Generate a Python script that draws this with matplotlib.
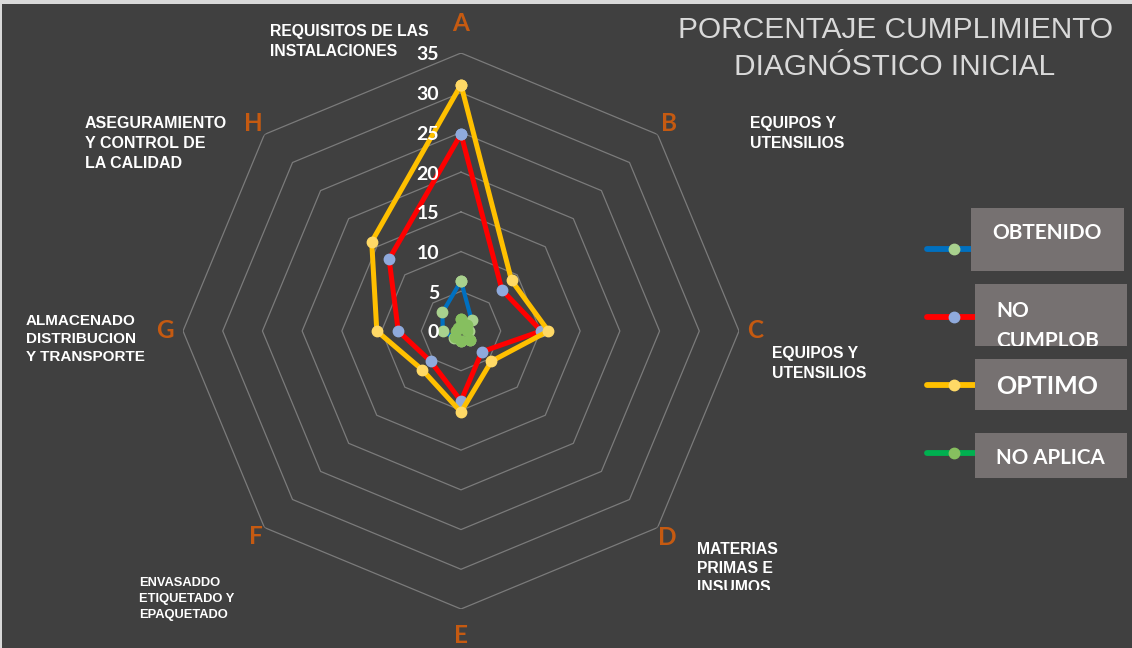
import numpy as np
import matplotlib.pyplot as plt
from matplotlib.patches import Rectangle
from matplotlib.lines import Line2D
from matplotlib.transforms import offset_copy

# data
letters = ["A", "B", "C", "D", "E", "F", "G", "H"]
names = ["REQUISITOS DE LAS\nINSTALACIONES", "EQUIPOS Y\nUTENSILIOS", "EQUIPOS Y\nUTENSILIOS",
         "MATERIAS\nPRIMAS E\nINSUMOS", "", "ENVASADDO\nETIQUETADO Y\nEPAQUETADO",
         "ALMACENADO\nDISTRIBUCION\nY TRANSPORTE", "ASEGURAMIENTO\nY CONTROL DE\nLA CALIDAD"]
obtenido = [6.3, 1.9, 1.0, 1.6, 1.2, 1.2, 2.3, 3.3]
no_cumplob = [24.8, 7.3, 10.1, 3.7, 8.8, 5.4, 7.9, 12.8]
optimo = [31.0, 9.0, 11.0, 5.4, 10.2, 6.9, 10.6, 15.9]
no_aplica = [1.5, 1.0, 0.8, 1.6, 1.3, 1.0, 0.6, 0.5]
series_names = ["OBTENIDO", "NO\nCUMPLOB", "OPTIMO", "NO APLICA"]
rings = [0, 5, 10, 15, 20, 25, 30, 35]

W, H = 1132, 648
bg = "#404040"
line_cols = ["#0070c0", "#ff0000", "#ffc000", "#00b050"]
mark_cols = ["#a9d18e", "#8faadc", "#ffd966", "#86bf5f"]

fig = plt.figure(figsize=(W / 100, H / 100), dpi=100, facecolor="#d9d9d9")
fig.add_artist(Rectangle((2 / W, 0), 1, 1 - 4 / H, transform=fig.transFigure,
                         facecolor=bg, edgecolor="none", zorder=-10))

cx, cy, R = 461, 331, 278
ax = fig.add_axes([(cx - R) / W, (H - cy - R) / H, 2 * R / W, 2 * R / H], projection="polar")
ax.set_facecolor("none")
ax.set_theta_offset(np.pi / 2)
ax.set_theta_direction(-1)
ax.set_ylim(0, 35)
ax.axis("off")

ang = np.arange(len(letters)) * 2 * np.pi / len(letters)
ang_c = np.append(ang, ang[0])

for r in rings[1:]:
    ax.plot(ang_c, [r] * len(ang_c), color="#7b7b7b", lw=0.9, zorder=1)

series = [obtenido, no_cumplob, optimo, no_aplica]
widths = [3.0, 3.6, 3.6, 3.0]
for i, vals in enumerate(series):
    v = np.append(vals, vals[0])
    ax.plot(ang_c, v, color=line_cols[i], lw=widths[i], marker="o", ms=7.5,
            mfc=mark_cols[i], mec=mark_cols[i], zorder=3 + i)

trans = offset_copy(ax.transData, fig=fig, x=-22, y=-2, units="dots")
for r in rings:
    ax.text(0, r, str(r), transform=trans, ha="right", va="center", color="white",
            fontsize=14, fontweight="bold", family="Lato", zorder=10)

letter_r = [38.7, 37.0, 37.0, 36.7, 38.3, 36.6, 37.3, 37.0]
for i, l in enumerate(letters):
    ax.text(ang[i], letter_r[i], l, ha="center", va="center", color="#c55a11",
            fontsize=17.5, fontweight="bold", family="Lato", clip_on=False)

# category names (left x, top y, fontsize, linespacing)
name_pos = [(270, 24, 11.3, 1.4), (750, 116, 11.3, 1.4), (772, 346, 11.3, 1.4),
            (697, 542, 11.3, 1.32), None, (139, 577, 9.3, 1.45),
            (26, 314, 11, 1.38), (85, 116, 11.5, 1.4)]
for i, nm in enumerate(names):
    if not nm:
        continue
    x, y, fs, ls = name_pos[i]
    t = fig.text(x / W, 1 - y / H, nm, ha="left", va="top", color="white", fontsize=fs,
                 fontweight="bold", family="Liberation Sans", linespacing=ls)
    if letters[i] == "D":
        clip = Rectangle((0, 1 - 590 / H), 1, 1, transform=fig.transFigure)
        t.set_clip_path(clip)

fig.text(895 / W, 1 - 16 / H, "PORCENTAJE CUMPLIMIENTO\nDIAGNÓSTICO INICIAL", ha="center",
         va="top", color="#d9d9d9", fontsize=21.5, family="Liberation Sans", linespacing=1.4)

# legend
leg_y = [249, 317, 385, 453]
boxes = [(971, 208, 1124, 271), (975, 284, 1127, 346), (975, 359, 1127, 410), (975, 433, 1127, 478)]
txt_pos = [(992, 233, 15, 1.0), (996, 301, 15, 1.6), (996, 387, 18, 1.0), (996, 458, 14.8, 1.0)]
for i, nm in enumerate(series_names):
    y = 1 - leg_y[i] / H
    fig.add_artist(Line2D([927 / W, 980 / W], [y, y], transform=fig.transFigure,
                          color=line_cols[i], lw=4.2, solid_capstyle="round", zorder=2))
    fig.add_artist(Line2D([954 / W], [y], transform=fig.transFigure, marker="o", ms=7.5,
                          mfc=mark_cols[i], mec=mark_cols[i], ls="none", zorder=3))
    x0, y0, x1, y1 = boxes[i]
    box = Rectangle((x0 / W, 1 - y1 / H), (x1 - x0) / W, (y1 - y0) / H, transform=fig.transFigure,
                    facecolor="#767171", edgecolor="none", zorder=4)
    fig.add_artist(box)
    tx, ty, fs, ls = txt_pos[i]
    if "\n" in nm:
        t = fig.text(tx / W, 1 - ty / H, nm, ha="left", va="top", color="white", fontsize=fs,
                     fontweight="bold", family="Lato", linespacing=ls, zorder=5)
    else:
        t = fig.text(tx / W, 1 - ty / H, nm, ha="left", va="center", color="white", fontsize=fs,
                     fontweight="bold", family="Lato", zorder=5)
    t.set_clip_path(box)

fig.savefig("out.png", dpi=100, facecolor=fig.get_facecolor())
